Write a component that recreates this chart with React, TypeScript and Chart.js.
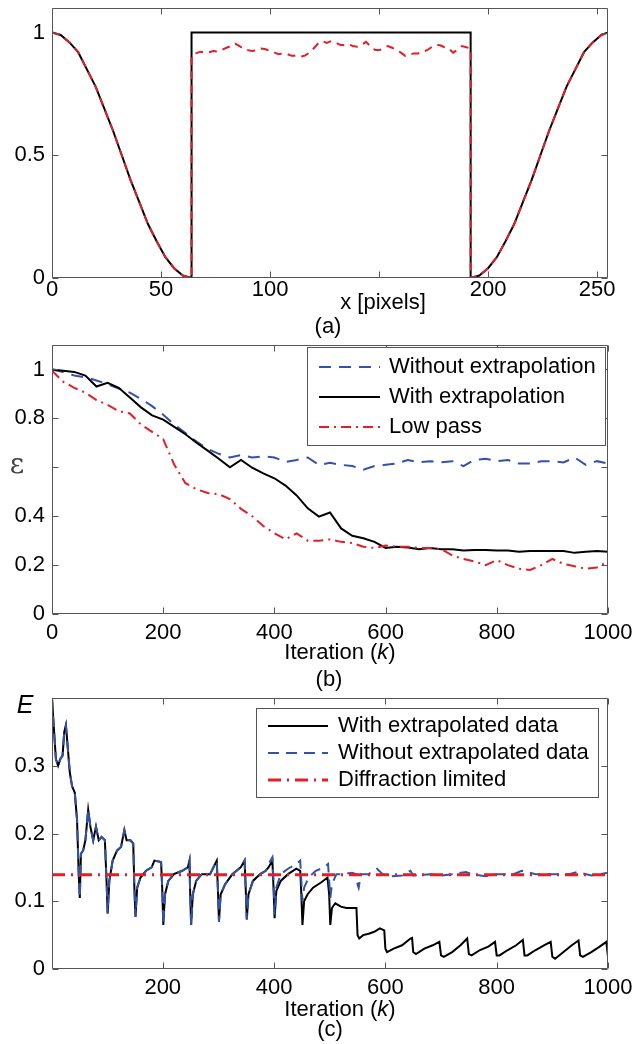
import React, { useEffect, useRef } from 'react';
import { Chart, registerables } from 'chart.js';

Chart.register(...registerables);

const FONT = '"Liberation Sans", Arial, Helvetica, sans-serif';
const RED = '#e31e26';
const BLUE = '#3253ab';
const BLACK = '#000000';
const FRAME = '#555555';

// ---------------- Panel (a) ----------------
const aXTicks = [0, 50, 100, 150, 200, 250];
const aXTickLabels = ['0', '50', '100', '', '200', '250'];
const aYTicks = [0, 0.5, 1];
const aYTickLabels = ['0', '0.5', '1'];

const aLeftX = [0, 4, 8, 12, 16, 20, 24, 28, 32, 36, 40, 44, 48, 52, 56, 60, 64];
const aLeftY = [1.0, 0.99, 0.96, 0.92, 0.85, 0.78, 0.69, 0.6, 0.5, 0.4, 0.31, 0.22, 0.15, 0.085, 0.04, 0.01, 0.0];
const aBoxX = [64, 192];
const aBoxY = [1, 1];
const aRightX = [192, 196, 200, 204, 208, 212, 216, 220, 224, 228, 232, 236, 240, 244, 248, 252, 255];
const aRightY = [0.0, 0.01, 0.04, 0.085, 0.15, 0.22, 0.31, 0.4, 0.5, 0.6, 0.69, 0.78, 0.85, 0.92, 0.96, 0.99, 1.0];
const aRedMidX = [64, 66, 68, 70, 72, 74, 76, 78, 80, 82, 84, 86, 88, 90, 92, 94, 96, 98, 100, 102, 104, 106, 108, 110, 112, 114, 116, 118, 120, 122, 124, 126, 128, 130, 132, 134, 136, 138, 140, 142, 144, 146, 148, 150, 152, 154, 156, 158, 160, 162, 164, 166, 168, 170, 172, 174, 176, 178, 180, 182, 184, 186, 188, 190, 192];
const aRedMidY = [0.905, 0.915, 0.922, 0.918, 0.92, 0.925, 0.922, 0.93, 0.938, 0.945, 0.955, 0.945, 0.932, 0.928, 0.925, 0.928, 0.935, 0.932, 0.925, 0.918, 0.912, 0.915, 0.912, 0.905, 0.906, 0.902, 0.906, 0.918, 0.935, 0.955, 0.965, 0.958, 0.965, 0.96, 0.95, 0.948, 0.952, 0.945, 0.942, 0.95, 0.962, 0.945, 0.93, 0.928, 0.935, 0.945, 0.938, 0.93, 0.918, 0.905, 0.91, 0.915, 0.915, 0.922, 0.928, 0.94, 0.95, 0.948, 0.94, 0.935, 0.918, 0.93, 0.945, 0.94, 0.935];

// ---------------- Panel (b) ----------------
const bXTicks = [0, 200, 400, 600, 800, 1000];
const bXTickLabels = ['0', '200', '400', '600', '800', '1000'];
const bYTicks = [0, 0.2, 0.4, 0.6, 0.8, 1];
const bYTickLabels = ['0', '0.2', '0.4', '', '0.8', '1'];

const bIter = [0, 20, 40, 60, 80, 100, 120, 140, 160, 180, 200, 220, 240, 260, 280, 300, 320, 340, 360, 380, 400, 420, 440, 460, 480, 500, 520, 540, 560, 580, 600, 620, 640, 660, 680, 700, 720, 740, 760, 780, 800, 820, 840, 860, 880, 900, 920, 940, 960, 980, 1000];
const bWithout = [1.0, 0.99, 0.975, 0.968, 0.955, 0.94, 0.922, 0.905, 0.88, 0.85, 0.815, 0.775, 0.74, 0.705, 0.675, 0.655, 0.64, 0.65, 0.64, 0.645, 0.64, 0.622, 0.63, 0.64, 0.61, 0.618, 0.61, 0.605, 0.59, 0.605, 0.61, 0.615, 0.63, 0.62, 0.625, 0.62, 0.625, 0.605, 0.63, 0.635, 0.625, 0.63, 0.615, 0.615, 0.625, 0.625, 0.62, 0.64, 0.61, 0.625, 0.615];
const bWith = [1.0, 0.995, 0.99, 0.975, 0.93, 0.945, 0.925, 0.885, 0.845, 0.812, 0.795, 0.765, 0.735, 0.7, 0.668, 0.635, 0.6, 0.63, 0.598, 0.575, 0.555, 0.525, 0.485, 0.432, 0.398, 0.415, 0.35, 0.32, 0.31, 0.295, 0.27, 0.275, 0.272, 0.265, 0.27, 0.265, 0.265, 0.26, 0.262, 0.262, 0.26, 0.26, 0.255, 0.258, 0.258, 0.258, 0.258, 0.25, 0.255, 0.258, 0.255];
const bLowPass = [0.995, 0.95, 0.925, 0.905, 0.875, 0.855, 0.83, 0.82, 0.775, 0.745, 0.715, 0.61, 0.535, 0.51, 0.495, 0.49, 0.47, 0.43, 0.4, 0.36, 0.33, 0.305, 0.33, 0.3, 0.3, 0.305, 0.295, 0.29, 0.275, 0.27, 0.28, 0.275, 0.275, 0.27, 0.27, 0.265, 0.24, 0.225, 0.215, 0.2, 0.22, 0.2, 0.185, 0.18, 0.2, 0.225, 0.205, 0.195, 0.185, 0.19, 0.215];

// ---------------- Panel (c) ----------------
const cXTicks = [200, 400, 600, 800, 1000];
const cXTickLabels = ['200', '400', '600', '800', '1000'];
const cYTicks = [0, 0.1, 0.2, 0.3, 0.4];
const cYTickLabels = ['0', '0.1', '0.2', '0.3', ''];

const cSharedX = [1, 4, 8, 12, 16, 20, 23, 26, 29, 33, 37, 42, 46, 49, 51, 53, 57, 61, 66, 70, 75, 80, 85, 90, 96, 99, 101, 104, 110, 118, 125, 131, 135, 142, 147, 149, 151, 154, 160, 170, 180, 185, 197, 199, 201, 204, 210, 220, 235, 245, 248, 249, 251, 254, 260, 270, 285, 297, 299, 301, 304, 312, 325, 340, 347, 349, 351, 354, 362, 375, 385];
const cSharedY = [0.4, 0.36, 0.31, 0.3, 0.31, 0.315, 0.35, 0.36, 0.33, 0.29, 0.27, 0.26, 0.22, 0.14, 0.105, 0.17, 0.175, 0.19, 0.235, 0.21, 0.19, 0.21, 0.19, 0.195, 0.19, 0.13, 0.082, 0.13, 0.16, 0.175, 0.18, 0.205, 0.19, 0.19, 0.185, 0.12, 0.077, 0.12, 0.135, 0.145, 0.15, 0.16, 0.158, 0.12, 0.065, 0.11, 0.13, 0.14, 0.145, 0.15, 0.16, 0.12, 0.065, 0.11, 0.13, 0.14, 0.14, 0.16, 0.12, 0.07, 0.11, 0.125, 0.14, 0.15, 0.16, 0.12, 0.073, 0.11, 0.13, 0.14, 0.145];
const cWithLateX = [390, 397, 399, 401, 404, 412, 425, 440, 447, 449, 451, 454, 460, 470, 485, 496, 499, 501, 504, 510, 520, 530, 540, 548, 550, 553, 560, 570, 580, 590, 598, 600, 603, 615, 630, 645, 648, 650, 655, 670, 685, 697, 700, 705, 720, 735, 747, 750, 755, 770, 785, 797, 800, 805, 820, 835, 847, 850, 855, 870, 885, 897, 900, 905, 920, 935, 947, 950, 955, 970, 985, 997, 1000];
const cWithLateY = [0.15, 0.16, 0.12, 0.075, 0.115, 0.13, 0.14, 0.148, 0.145, 0.11, 0.065, 0.1, 0.11, 0.12, 0.128, 0.135, 0.11, 0.065, 0.09, 0.097, 0.092, 0.09, 0.09, 0.09, 0.05, 0.045, 0.05, 0.052, 0.055, 0.06, 0.057, 0.03, 0.025, 0.03, 0.035, 0.045, 0.046, 0.025, 0.022, 0.03, 0.035, 0.04, 0.02, 0.018, 0.025, 0.035, 0.045, 0.022, 0.02, 0.028, 0.033, 0.04, 0.02, 0.02, 0.028, 0.035, 0.043, 0.02, 0.02, 0.028, 0.035, 0.04, 0.018, 0.015, 0.025, 0.035, 0.042, 0.02, 0.018, 0.025, 0.033, 0.04, 0.018];
const cWithoutLateX = [390, 397, 399, 401, 404, 412, 425, 440, 447, 449, 451, 454, 462, 475, 490, 497, 499, 501, 504, 512, 525, 540, 548, 550, 552, 556, 570, 585, 595, 610, 630, 645, 650, 680, 700, 720, 745, 755, 780, 800, 830, 845, 870, 900, 930, 945, 970, 1000];
const cWithoutLateY = [0.155, 0.165, 0.13, 0.08, 0.12, 0.14, 0.148, 0.155, 0.16, 0.13, 0.1, 0.12, 0.135, 0.145, 0.15, 0.155, 0.13, 0.105, 0.125, 0.14, 0.14, 0.142, 0.14, 0.125, 0.12, 0.14, 0.14, 0.148, 0.14, 0.137, 0.138, 0.145, 0.138, 0.14, 0.138, 0.14, 0.143, 0.14, 0.137, 0.14, 0.14, 0.145, 0.14, 0.14, 0.14, 0.143, 0.138, 0.142];
const cDiffX = [1, 1000];
const cDiffY = [0.139, 0.139];

// ---------------- helpers ----------------
const pts = (xs: number[], ys: number[]) => xs.map((x, i) => ({ x, y: ys[i] }));

function axis(min: number, max: number, ticks: number[], labels: string[], isX: boolean, size: number, padding: number) {
  return {
    type: 'linear',
    min,
    max,
    bounds: 'data',
    grid: { display: false, drawTicks: false },
    border: { display: false },
    ticks: {
      autoSkip: false,
      maxRotation: 0,
      minRotation: 0,
      padding,
      color: '#000',
      font: { family: FONT, size: 22, lineHeight: 1 },
      callback: (_v: any, i: number) => (labels[i] !== undefined ? labels[i] : ''),
    },
    afterBuildTicks: (s: any) => {
      s.ticks = ticks.map((v) => ({ value: v }));
    },
    afterFit: (s: any) => {
      if (isX) s.height = size;
      else s.width = size;
      s.paddingLeft = 0;
      s.paddingRight = 0;
      s.paddingTop = 0;
      s.paddingBottom = 0;
    },
  };
}

const framePlugin = {
  id: 'frame',
  afterDatasetsDraw(chart: any) {
    const { ctx, chartArea: a, scales } = chart;
    const tl = 6;
    ctx.save();
    ctx.strokeStyle = FRAME;
    ctx.lineWidth = 1;
    const L = Math.round(a.left) + 0.5;
    const R = Math.round(a.right) - 0.5;
    const T = Math.round(a.top) + 0.5;
    const B = Math.round(a.bottom) - 0.5;
    ctx.beginPath();
    ctx.rect(L, T, R - L, B - T);
    scales.x.ticks.forEach((t: any) => {
      const px = Math.round(scales.x.getPixelForValue(t.value)) + 0.5;
      ctx.moveTo(px, B);
      ctx.lineTo(px, B - tl);
      ctx.moveTo(px, T);
      ctx.lineTo(px, T + tl);
    });
    scales.y.ticks.forEach((t: any) => {
      const py = Math.round(scales.y.getPixelForValue(t.value)) + 0.5;
      ctx.moveTo(L, py);
      ctx.lineTo(L + tl, py);
      ctx.moveTo(R, py);
      ctx.lineTo(R - tl, py);
    });
    ctx.stroke();
    ctx.restore();
  },
};

type Seg = { text: string; italic?: boolean };
type Caption = { parts: Seg[]; x: number; y: number; size: number; family?: string; color?: string };

const captionPlugin = {
  id: 'captions',
  afterDraw(chart: any, _args: any, opts: any) {
    const ctx = chart.ctx;
    const list: Caption[] = (opts && opts.items) || [];
    ctx.save();
    ctx.textBaseline = 'middle';
    ctx.textAlign = 'left';
    for (const c of list) {
      const fam = c.family || FONT;
      const fontOf = (s: Seg) => `${s.italic ? 'italic ' : ''}${c.size}px ${fam}`;
      let total = 0;
      const widths = c.parts.map((p) => {
        ctx.font = fontOf(p);
        const w = ctx.measureText(p.text).width;
        total += w;
        return w;
      });
      let x = c.x - total / 2;
      ctx.fillStyle = c.color || '#000';
      c.parts.forEach((p, i) => {
        ctx.font = fontOf(p);
        ctx.fillText(p.text, x, c.y);
        x += widths[i];
      });
    }
    ctx.restore();
  },
};

const boxLegendPlugin = {
  id: 'boxLegend',
  afterDraw(chart: any, _args: any, opts: any) {
    if (!opts || !opts.box) return;
    const ctx = chart.ctx;
    const [x0, y0, x1, y1] = opts.box;
    ctx.save();
    ctx.fillStyle = '#fff';
    ctx.fillRect(x0, y0, x1 - x0, y1 - y0);
    ctx.strokeStyle = FRAME;
    ctx.lineWidth = 1;
    ctx.strokeRect(x0 + 0.5, y0 + 0.5, x1 - x0, y1 - y0);
    ctx.font = `22px ${FONT}`;
    ctx.textBaseline = 'middle';
    ctx.textAlign = 'left';
    chart.data.datasets.forEach((ds: any, i: number) => {
      const y = opts.rowY[i];
      ctx.save();
      ctx.strokeStyle = ds.borderColor;
      ctx.lineWidth = ds.borderWidth;
      ctx.setLineDash(ds.borderDash || []);
      ctx.beginPath();
      ctx.moveTo(opts.lineX0, y);
      ctx.lineTo(opts.lineX1, y);
      ctx.stroke();
      ctx.restore();
      ctx.fillStyle = '#000';
      ctx.fillText(ds.label, opts.textX, y);
    });
    ctx.restore();
  },
};

function line(label: string, data: any[], color: string, width: number, dash: number[], order: number) {
  return {
    label,
    data,
    borderColor: color,
    backgroundColor: color,
    borderWidth: width,
    borderDash: dash,
    pointRadius: 0,
    pointHoverRadius: 0,
    fill: false,
    tension: 0,
    order,
  };
}

function baseOptions(padding: any, x: any, y: any, plugins: any) {
  return {
    animation: false,
    responsive: false,
    maintainAspectRatio: false,
    devicePixelRatio: 1,
    events: [],
    layout: { padding },
    scales: { x, y },
    plugins: {
      legend: { display: false },
      tooltip: { enabled: false },
      title: { display: false },
      ...plugins,
    },
  };
}

// Canvas placement (page pixels)
const A_TOP = 0, A_H = 340;
const B_TOP = 340, B_H = 355;
const C_TOP = 695, C_H = 349;

const iterationParts: Seg[] = [{ text: 'Iteration (' }, { text: 'k', italic: true }, { text: ')' }];

function configA() {
  const black = [...pts(aLeftX, aLeftY), ...pts(aBoxX, aBoxY), ...pts(aRightX, aRightY)];
  const red = [...pts(aLeftX, aLeftY), ...pts(aRedMidX, aRedMidY), ...pts(aRightX, aRightY)];
  return {
    type: 'line',
    data: {
      datasets: [
        line('Object', black, BLACK, 2, [], 2),
        line('Reconstruction', red, RED, 2, [8, 6], 1),
      ],
    },
    options: baseOptions(
      { top: 8, left: 0, right: 27, bottom: 0 },
      axis(0, 255, aXTicks, aXTickLabels, true, A_H - 278, 1),
      axis(0, 1.1, aYTicks, aYTickLabels, false, 52, 7),
      {
        captions: {
          items: [
            { parts: [{ text: 'x [pixels]' }], x: 383, y: 303 - A_TOP, size: 22 },
            { parts: [{ text: '(a)' }], x: 328, y: 327 - A_TOP, size: 22 },
          ],
        },
      }
    ),
    plugins: [framePlugin, captionPlugin, boxLegendPlugin],
  };
}

function configB() {
  return {
    type: 'line',
    data: {
      datasets: [
        line('Without extrapolation', pts(bIter, bWithout), BLUE, 2, [12, 8], 3),
        line('With extrapolation', pts(bIter, bWith), BLACK, 2, [], 2),
        line('Low pass', pts(bIter, bLowPass), RED, 2, [10, 5, 2, 5], 1),
      ],
    },
    options: baseOptions(
      { top: 345 - B_TOP, left: 0, right: 27, bottom: 0 },
      axis(0, 1000, bXTicks, bXTickLabels, true, B_TOP + B_H - 614, 8),
      axis(0, 1.1, bYTicks, bYTickLabels, false, 52, 7),
      {
        captions: {
          items: [
            { parts: [{ text: 'ε' }], x: 17, y: 466 - B_TOP, size: 28, family: '"DejaVu Serif", "Liberation Serif", serif', color: '#444' },
            { parts: iterationParts, x: 340, y: 653 - B_TOP, size: 22 },
            { parts: [{ text: '(b)' }], x: 329, y: 680 - B_TOP, size: 22 },
          ],
        },
        boxLegend: {
          box: [307, 347 - B_TOP, 605, 445 - B_TOP],
          rowY: [367 - B_TOP, 397 - B_TOP, 427 - B_TOP],
          lineX0: 319,
          lineX1: 380,
          textX: 389,
        },
      }
    ),
    plugins: [framePlugin, captionPlugin, boxLegendPlugin],
  };
}

function configC() {
  const withData = [...pts(cSharedX, cSharedY), ...pts(cWithLateX, cWithLateY)];
  const withoutData = [...pts(cSharedX, cSharedY), ...pts(cWithoutLateX, cWithoutLateY)];
  return {
    type: 'line',
    data: {
      datasets: [
        line('With extrapolated data', withData, BLACK, 2, [], 3),
        line('Without extrapolated data', withoutData, BLUE, 2, [11, 7], 2),
        line('Diffraction limited', pts(cDiffX, cDiffY), RED, 3, [13, 6, 2, 6], 1),
      ],
    },
    options: baseOptions(
      { top: 698 - C_TOP, left: 0, right: 27, bottom: 0 },
      axis(1, 1000, cXTicks, cXTickLabels, true, C_TOP + C_H - 969, 8),
      axis(0, 0.4, cYTicks, cYTickLabels, false, 52, 7),
      {
        captions: {
          items: [
            { parts: [{ text: 'E', italic: true }], x: 25, y: 706 - C_TOP, size: 25 },
            { parts: iterationParts, x: 340, y: 1010 - C_TOP, size: 22 },
            { parts: [{ text: '(c)' }], x: 330, y: 1030 - C_TOP, size: 22 },
          ],
        },
        boxLegend: {
          box: [256, 708 - C_TOP, 598, 797 - C_TOP],
          rowY: [726 - C_TOP, 753 - C_TOP, 780 - C_TOP],
          lineX0: 268,
          lineX1: 328,
          textX: 338,
        },
      }
    ),
    plugins: [framePlugin, captionPlugin, boxLegendPlugin],
  };
}

function Panel({ top, height, make }: { top: number; height: number; make: () => any }) {
  const ref = useRef<HTMLCanvasElement>(null);
  useEffect(() => {
    if (!ref.current) return;
    const chart = new Chart(ref.current, make());
    return () => chart.destroy();
  }, []);
  return (
    <canvas
      ref={ref}
      width={635}
      height={height}
      style={{ position: 'absolute', left: 0, top, width: 635, height, display: 'block' }}
    />
  );
}

export default function App() {
  return (
    <div style={{ position: 'absolute', left: 0, top: 0, width: 635, height: 1044, background: '#fff', overflow: 'hidden' }}>
      <Panel top={A_TOP} height={A_H} make={configA} />
      <Panel top={B_TOP} height={B_H} make={configB} />
      <Panel top={C_TOP} height={C_H} make={configC} />
    </div>
  );
}
